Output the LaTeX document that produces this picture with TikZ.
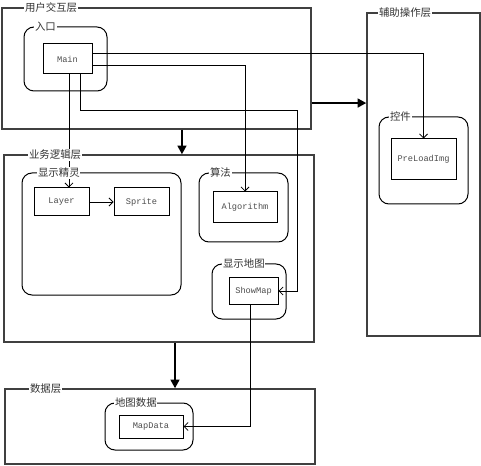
\documentclass[tikz,border=0pt]{standalone}
\usepackage{fontspec}
\setmonofont{Liberation Mono}
\newfontfamily\cjk{Noto Sans CJK SC}
\usetikzlibrary{arrows.meta}
\usetikzlibrary{fit}

\tikzset{
  layer/.style={draw=black!75,line width=1pt,inner sep=0pt},
  group/.style={draw,rounded corners=7.5pt,line width=.75pt,inner sep=0pt},
  unit/.style={draw,line width=.75pt,inner sep=0pt},
  unittext/.style={font=\ttfamily\fontsize{6.5}{7}\selectfont,text=black!70},
  lbl/.style={anchor=west,fill=white,inner sep=.6pt,font=\cjk\fontsize{7.8}{8}\selectfont,text=black!80},
  flow/.style={line width=.6pt,-{Straight Barb[length=3pt,width=6pt]}},
  bigflow/.style={line width=2.2pt,-{Triangle[length=6.5pt,width=6.5pt]}}
}

\begin{document}
\begin{tikzpicture}[x=0.75pt,y=-0.75pt]
\useasboundingbox (0,0) rectangle (481,466);
% layers
\node[layer,fit={(2,8) (311,129)}] (ui) {};
\node[layer,fit={(367,13) (480,336)}] (aux) {};
\node[layer,fit={(4,155) (314,342)}] (biz) {};
\node[layer,fit={(5,389) (315,464)}] (data) {};
% groups
\node[group,fit={(24,27) (107,91)}] (entry) {};
\node[group,fit={(22,173) (181,295)}] (sprites) {};
\node[group,fit={(199,173) (288,242)}] (algos) {};
\node[group,fit={(212,264) (286,319)}] (maps) {};
\node[group,fit={(379,117) (468,204)}] (ctrls) {};
\node[group,fit={(105,403) (193,450)}] (mapdb) {};
% units
\node[unit,fit={(43,44) (92,74)}] (main) {};
\node[unittext] at (main) {Main};
\node[unit,fit={(34,188) (89,216)}] (layer) {};
\node[unittext] at (layer) {Layer};
\node[unit,fit={(114,188) (169,216)}] (sprite) {};
\node[unittext] at (sprite) {Sprite};
\node[unit,fit={(213,192) (277,223)}] (algo) {};
\node[unittext] at (algo) {Algorithm};
\node[unit,fit={(229,278) (278,304)}] (smap) {};
\node[unittext] at (smap) {ShowMap};
\node[unit,fit={(391,139) (456,180)}] (pre) {};
\node[unittext] at (pre) {PreLoadImg};
\node[unit,fit={(119,415) (183,438)}] (mdata) {};
\node[unittext] at (mdata) {MapData};
% thin connectors
\coordinate (bend) at (297,110);
\draw[flow] ([yshift=4.5pt]main.east) -| (pre.north);
\draw[flow] ([yshift=-4.5pt]main.east) -| (algo.north);
\draw[flow] ([xshift=1.1pt]main.south) -- ([xshift=1.1pt]main.south |- layer.north);
\draw[flow] ([xshift=9.4pt]main.south) |- (bend) |- (smap.east);
\draw[flow] (layer) -- (sprite);
\draw[flow] ([xshift=-2.6pt]smap.south) |- (mdata.east);
% labels
\node[lbl] at (24,8) {用户交互层};
\node[lbl] at (34,27) {入口};
\node[lbl] at (378,13) {辅助操作层};
\node[lbl] at (389,117) {控件};
\node[lbl] at (28,155) {业务逻辑层};
\node[lbl] at (37,173) {显示精灵};
\node[lbl] at (209,173) {算法};
\node[lbl] at (222,264) {显示地图};
\node[lbl] at (29,389) {数据层};
\node[lbl] at (114,403) {地图数据};
% layer flows
\draw[bigflow] ([xshift=19.1pt]ui.south) -- ([xshift=19.1pt]ui.south |- biz.north);
\draw[bigflow] ([yshift=-25.9pt]ui.east) -- ([yshift=-25.9pt]ui.east -| aux.west);
\draw[bigflow] ([xshift=12pt]biz.south) -- ([xshift=12pt]biz.south |- data.north);
\end{tikzpicture}
\end{document}
